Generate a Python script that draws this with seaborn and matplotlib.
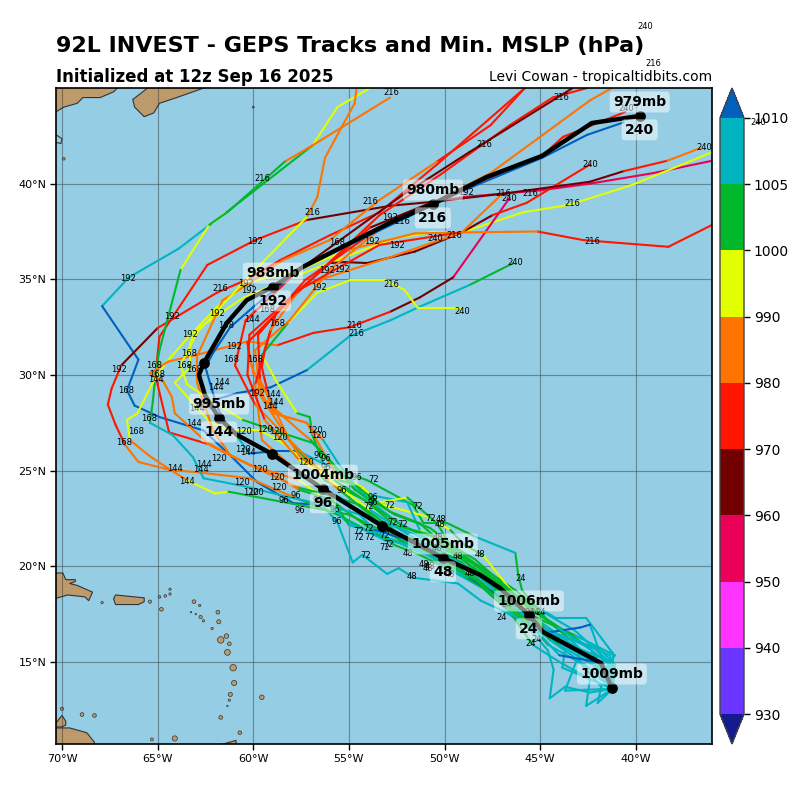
import numpy as np
import pandas as pd
import matplotlib
matplotlib.use("Agg")
import matplotlib.pyplot as plt
from matplotlib.colors import ListedColormap, BoundaryNorm
from matplotlib.cm import ScalarMappable
import seaborn as sns

sns.set_style("ticks")
plt.rcParams["font.family"] = ["DejaVu Sans"]
plt.rcParams["text.color"] = "black"
plt.rcParams["xtick.color"] = "black"
plt.rcParams["ytick.color"] = "black"

# colour scale
mslp_bounds = [930, 940, 950, 960, 970, 980, 990, 1000, 1005, 1010]
mslp_ticks = ["930", "940", "950", "960", "970", "980", "990", "1000", "1005", "1010"]
band_colors = ["#6a35ff", "#ff33ff", "#eb0059", "#720000", "#ff1500", "#ff7300",
               "#e1ff00", "#00b82c", "#00b5c0"]
under_color = "#151a8f"
over_color = "#0060be"

# ensemble members
m01_lon = [-41.2,-42.4,-43.7,-44.5,-44.3,-44.6,-45.6,-46.8,-48.1,-49.3,-51.6,-52.4,-53.0,-54.3,-54.8,-55.6,-56.4,-57.9,-59.8,-61.1,-62.6,-64.9,-66.2,-66.6,-66.0,-67.9,-66.5,-63.9,-62.2,-61.4,-56.9,-55.6,-53.9]
m01_lat = [13.6,13.4,13.7,13.1,14.6,15.6,16.8,17.6,18.2,19.1,19.4,19.9,19.6,20.6,20.2,22.3,23.2,23.3,24.4,25.7,27.1,27.8,28.4,29.2,30.8,33.6,35.1,36.6,37.9,38.5,42.0,44.0,45.0]
m01_mslp = [1007,1007,1007,1007,1007,1007,1007,1007,1007,1007,1007,1007,1007,1007,1007,1007,1007,1012,1012,1012,1012,1012,1012,1012,1012,1012,1007,1007,1007,995,1002,995,995]

m02_lon = [-41.2,-42.6,-42.4,-44.0,-45.4,-46.5,-47.9,-49.7,-51.3,-52.6,-54.2,-56.0,-57.6,-58.6,-60.2,-62.4,-64.4,-65.0,-65.1,-64.9,-62.4,-59.9,-57.2,-52.8,-50.6,-49.0,-46.7,-45.0,-42.4,-39.1,-36.0]
m02_lat = [13.6,12.7,14.1,15.0,15.9,17.5,18.8,19.8,20.6,21.1,22.2,23.5,24.0,24.6,25.3,26.4,27.0,29.5,30.1,32.0,35.75,37.05,38.1,38.85,39.05,39.3,39.5,39.65,40.0,40.55,41.2]
m02_mslp = [1007,1007,1007,1007,1007,1002,1007,1007,1002,1002,1002,1002,1002,985,985,985,975,975,975,975,975,975,975,965,965,955,955,955,955,955,955]

m03_lon = [-41.2,-42.0,-41.8,-42.9,-44.6,-45.8,-47.4,-48.7,-50.2,-51.8,-53.6,-55.6,-57.6,-58.8,-60.2,-62.8,-64.4,-66.0,-66.7,-67.2,-67.6,-67.4,-66.9,-65.0,-61.9,-60.3,-58.6,-56.0,-53.4,-50.4,-45.8]
m03_lat = [13.6,12.85,13.7,14.95,15.9,17.3,18.5,19.3,20.35,21.1,21.65,22.7,23.5,24.0,24.6,24.9,25.05,25.45,26.35,27.4,28.45,29.3,30.5,32.45,34.3,35.0,36.0,37.3,38.5,41.0,45.0]
m03_mslp = [1007,1007,1007,1007,1007,1002,1007,1002,1002,1002,1002,1002,1002,985,985,985,985,985,985,975,975,975,975,965,975,975,975,975,975,975,975]

m04_lon = [-41.2,-41.2,-42.6,-44.2,-45.3,-46.3,-47.1,-48.7,-50.0,-51.5,-52.8,-54.4,-56.2,-58.1,-60.3,-62.6,-63.15,-64.2,-65.4,-65.25,-65.1,-64.9,-63.8,-62.3,-61.3,-58.35,-56.9,-52.85]
m04_lat = [13.6,15.45,17.3,17.3,17.95,18.75,19.3,20.35,20.85,21.65,22.15,22.7,23.2,23.6,24.15,24.6,25.7,26.85,27.5,28.6,30.1,31.3,35.5,37.85,38.55,41.15,42.0,44.5]
m04_mslp = [1007,1007,1007,1007,1007,1002,1002,1002,1002,1007,1007,1007,1007,1007,1007,1007,1007,1007,1007,1002,1002,1002,1002,995,1002,1002,985,985]

m05_lon = [-41.2,-41.35,-43.2,-45.5,-46.5,-47.6,-48.7,-50.0,-51.3,-52.85,-55.0,-57.6,-61.3,-62.0,-63.45,-64.35,-65.4,-66.45,-66.6,-66.05,-65.25,-64.6,-63.15,-60.5,-58.1,-55.0,-52.6,-50.75,-49.1,-45.9,-43.45,-40.15,-36.0]
m05_lat = [13.6,15.35,16.15,16.65,17.6,18.5,19.55,20.05,20.85,21.65,22.7,23.2,23.9,23.8,24.5,25.05,25.75,26.6,27.65,28.0,29.6,30.6,32.25,34.05,35.05,36.25,37.15,37.45,37.45,38.5,38.9,39.95,41.65]
m05_mslp = [1007,1007,1007,1007,1007,1002,1002,1002,1002,1002,1002,1002,1002,995,995,985,985,985,995,995,995,995,995,995,995,995,995,995,995,995,995,995,995]

m06_lon = [-41.2,-43.85,-43.7,-45.5,-46.3,-47.6,-48.8,-50.25,-51.55,-53.1,-55.2,-56.5,-57.6,-60.2,-62.4,-64.1,-64.25,-64.7,-65.4,-64.45,-62.95,-60.3,-58.75,-56.85,-54.95,-52.85,-51.3,-49.55,-46.6]
m06_lat = [13.6,14.7,15.6,16.95,18.0,18.75,19.8,20.75,21.1,21.35,22.4,23.7,24.5,25.3,26.45,28.0,28.85,29.65,30.1,30.7,31.05,31.75,31.55,32.2,32.5,33.3,34.05,35.1,39.25]
m06_mslp = [1007,1007,1007,1007,1002,1002,1002,1007,1007,1007,1007,1007,995,985,985,985,985,985,985,985,985,985,985,975,975,975,965,965,955]

m07_lon = [-41.2,-43.7,-42.9,-45.0,-46.6,-48.25,-49.7,-51.0,-52.6,-54.4,-55.7,-57.6,-59.0,-60.2,-60.7,-61.6,-62.5,-60.85,-59.1,-57.2,-56.0,-55.0,-52.85,-51.45,-48.7,-46.4]
m07_lat = [13.6,13.5,15.6,17.1,18.25,19.55,20.35,21.5,22.4,23.8,25.05,26.0,26.0,25.9,26.6,27.65,28.55,29.05,29.35,30.25,31.2,32.0,32.85,33.5,34.7,35.85]
m07_mslp = [1007,1007,1007,1007,1002,1002,1002,1002,1007,1007,1007,1007,1012,1012,1007,1002,1012,1012,1012,1012,1007,1007,1007,1007,1007,1002]

m08_lon = [-41.2,-41.95,-43.4,-44.55,-45.95,-46.15,-46.3,-48.4,-49.85,-51.1,-51.65,-54.05,-55.6,-56.35,-56.9,-57.05,-57.7,-58.75,-59.55,-58.2,-56.65,-54.95,-53.1,-52.1,-51.4,-49.1]
m08_lat = [13.6,14.7,16.15,17.1,18.75,19.55,20.7,21.55,22.25,22.25,23.2,24.5,25.05,25.4,26.85,27.8,28.0,29.6,31.05,32.7,34.3,34.95,34.95,34.45,33.5,33.5]
m08_mslp = [1007,1007,1007,1002,1002,1002,1002,1007,1002,1002,1002,1002,1002,1007,1002,1002,1002,995,995,1002,995,995,995,995,995,995]

m09_lon = [-41.2,-42.4,-44.2,-45.5,-47.25,-48.0,-48.95,-49.7,-50.9,-53.55,-54.3,-55.5,-57.2,-58.95,-59.4,-59.55,-59.4,-58.75,-56.0,-55.2,-54.05,-51.55,-49.1,-47.5,-45.7,-42.4]
m09_lat = [13.6,15.1,16.15,17.45,19.65,20.6,21.1,21.9,22.6,23.3,24.15,24.5,27.5,28.0,29.75,30.4,31.3,33.4,35.85,35.9,35.85,36.45,37.45,38.35,39.0,41.0]
m09_mslp = [1007,1007,1007,1002,995,995,1002,1002,995,995,995,1002,985,985,975,975,975,975,975,965,965,965,965,965,975,975]

m10_lon = [-41.2,-41.6,-44.0,-45.5,-46.85,-48.4,-49.7,-51.3,-51.95,-54.3,-55.5,-56.35,-57.2,-58.95,-59.3,-60.0,-60.3,-57.4,-56.15,-52.85,-49.1,-46.95]
m10_lat = [13.6,14.45,15.9,17.2,18.5,19.8,20.95,21.9,23.35,23.8,25.3,26.6,27.5,28.0,29.05,30.1,31.7,34.6,35.1,36.15,37.45,39.5]
m10_mslp = [1007,1007,1007,1002,1002,1002,1002,995,1007,1007,1007,1007,985,985,985,985,985,985,985,985,985,985]

m11_lon = [-41.2,-42.65,-44.5,-45.8,-47.1,-48.7,-49.7,-50.4,-51.95,-53.55,-54.3,-56.35,-57.9,-58.45,-59.65,-61.2,-62.25,-64.1,-63.3,-63.3,-62.95,-61.9,-60.2,-57.6,-55.0,-51.55,-49.1,-45.15,-42.75,-38.3,-36.0]
m11_lat = [13.6,14.85,16.15,17.6,18.75,20.05,21.1,22.25,23.6,23.3,24.15,25.05,25.95,26.45,27.1,27.1,27.5,29.6,30.4,31.65,32.45,33.55,34.85,35.5,36.55,37.4,37.45,37.5,37.05,36.7,37.85]
m11_mslp = [1007,1007,1007,1002,1002,1002,1002,1002,1002,995,995,995,995,995,995,995,995,995,995,995,995,995,995,995,995,985,985,985,975,975,975]

m12_lon = [-41.2,-41.9,-41.1,-43.2,-46.05,-47.6,-49.1,-50.75,-52.3,-54.4,-56.0,-57.6,-59.65,-61.2,-62.1,-62.95,-62.95,-61.6,-60.2,-58.45,-56.0,-53.4,-50.4,-47.6,-45.8]
m12_lat = [13.6,14.15,15.35,16.4,17.7,19.0,20.2,21.1,21.65,23.2,23.7,24.1,25.05,25.8,27.1,29.65,30.95,33.9,34.8,36.0,37.05,39.15,41.15,43.05,45.0]
m12_mslp = [1007,1007,1007,1007,1002,1002,1002,1002,1002,1002,1002,1002,985,985,985,985,985,985,985,985,985,985,985,975,975]

m13_lon = [-41.2,-41.6,-42.4,-44.75,-46.05,-47.7,-49.45,-50.75,-52.6,-54.15,-56.25,-58.45,-60.55,-62.25,-63.45,-63.8,-62.95,-60.55,-59.5,-57.2,-56.65,-56.25,-54.7,-54.6]
m13_lat = [13.6,14.05,15.75,16.75,18.25,19.4,20.6,21.65,22.15,23.45,24.5,26.95,27.65,28.7,29.5,30.5,32.2,34.8,35.9,38.25,39.3,41.35,44.2,45.0]
m13_mslp = [1007,1007,1007,1007,1002,1002,1002,1002,1002,1002,1002,1002,1002,995,995,995,995,995,995,995,985,985,985,985]

m14_lon = [-41.2,-41.35,-43.0,-44.75,-46.5,-48.15,-49.3,-50.75,-52.6,-54.7,-56.0,-57.0,-57.6,-59.4,-60.2,-60.3,-58.1,-56.0,-53.4,-50.25,-46.6,-44.35,-42.55]
m14_lat = [13.6,14.85,16.15,17.3,18.65,19.9,20.85,22.0,22.7,24.0,25.55,26.6,27.1,28.7,30.8,31.7,33.9,35.9,38.35,40.45,43.05,44.5,45.0]
m14_mslp = [1007,1007,1007,1002,1002,1002,1002,1002,1002,1002,1002,1002,985,985,985,975,975,975,975,975,975,975,975]

m15_lon = [-41.2,-41.5,-43.2,-45.0,-46.7,-48.4,-50.0,-51.3,-52.85,-55.0,-56.9,-58.45,-59.9,-60.95,-60.4,-57.6,-52.2,-48.7,-46.6,-43.3]
m15_lat = [13.6,15.1,16.65,17.7,18.75,20.05,21.1,22.25,22.85,24.5,26.45,26.95,28.45,30.5,32.85,35.5,39.4,41.65,42.95,45.0]
m15_mslp = [1007,1007,1007,1007,1002,1002,1002,1002,1002,1002,1002,1002,985,975,975,975,965,965,965,965]

m16_lon = [-41.2,-42.4,-42.9,-44.85,-46.05,-47.6,-49.1,-50.75,-52.3,-53.9,-55.5,-57.6,-59.65,-59.9,-58.1,-56.0,-53.4,-47.6,-42.4,-41.25]
m16_lat = [13.6,16.95,16.8,16.5,17.7,18.75,19.8,20.75,21.35,22.7,24.0,25.8,28.95,31.3,32.85,35.5,37.6,40.55,44.35,45.0]
m16_mslp = [1007,1007,1012,1012,1007,1002,1002,1002,1002,1002,1002,985,985,985,985,985,985,985,985,985]

m17_lon = [-41.2,-41.2,-43.45,-45.5,-47.4,-48.95,-50.5,-52.3,-53.9,-56.0,-58.1,-59.65,-59.75,-57.3,-53.4,-49.0,-44.85,-43.8,-40.55]
m17_lat = [13.6,14.95,15.9,17.1,18.75,20.05,20.85,21.9,22.95,24.5,26.6,29.75,32.1,34.95,37.7,39.65,41.5,42.45,43.75]
m17_mslp = [1007,1007,1007,1007,1007,1007,1007,1007,1007,995,985,985,975,975,975,975,975,975,975]

m18_lon = [-41.2,-41.8,-44.0,-45.5,-47.1,-48.7,-50.25,-52.3,-53.65,-55.2,-57.6,-59.0,-60.7,-61.6,-62.0,-62.5,-62.1,-61.2,-60.0,-57.4,-49.0,-44.9,-42.55,-40.65]
m18_lat = [13.6,14.95,15.35,16.95,18.4,19.4,20.2,21.5,21.9,23.45,24.75,25.95,26.75,27.65,28.7,30.4,31.15,32.5,33.55,35.65,39.65,41.35,42.55,43.2]
m18_mslp = [1007,1007,1012,1007,1002,1012,1007,1007,1012,1007,1007,1007,1007,1012,1012,1012,1012,1012,1012,1012,1012,1012,1012,1012]

m19_lon = [-41.2,-41.1,-41.9,-45.5,-47.1,-48.4,-50.0,-51.8,-53.5,-55.0,-56.25,-57.8,-59.55,-59.9,-59.1,-57.6,-53.9,-50.6,-46.75,-42.4,-40.65,-38.35,-36.65]
m19_lat = [13.6,14.85,15.7,16.8,18.25,19.3,20.2,20.95,21.75,22.15,24.1,25.05,26.6,29.5,32.35,34.45,37.7,39.05,39.5,40.1,40.65,41.2,41.85]
m19_mslp = [1007,1007,1007,1007,1002,1002,1002,1007,1007,1007,1002,995,985,985,975,985,975,965,965,965,965,975,985]

m20_lon = [-41.2,-42.3,-44.1,-45.4,-46.85,-48.4,-50.15,-52.05,-53.8,-55.75,-57.6,-59.4,-60.3,-60.2,-57.6,-53.4,-49.2]
m20_lat = [13.6,15.6,16.8,17.7,19.0,20.35,21.4,22.0,23.2,24.5,25.55,27.65,30.0,32.1,34.45,36.8,37.45]
m20_mslp = [1007,1007,1007,1002,1002,1002,1002,1002,1002,1002,995,985,975,975,975,975,975]

# ensemble mean track
mean_lon = [-41.25,-41.83,-44.86,-45.59,-47.11,-48.15,-50.09,-52.33,-53.27,-56.36,-59.02,-60.85,-61.79,-62.53,-62.84,-62.58,-61.38,-60.33,-58.97,-57.4,-52.86,-50.61,-47.79,-44.91,-42.3,-39.8]
mean_lat = [13.64,14.95,16.57,17.46,18.87,19.55,20.44,21.64,22.11,24.04,25.87,26.87,27.75,28.96,30.0,30.63,32.72,33.92,34.6,35.65,37.95,38.94,40.35,41.45,43.17,43.54]

# daily fixes on the mean track
fix_lon = [-41.25,-45.59,-50.09,-53.27,-56.36,-59.02,-61.79,-62.58,-58.97,-50.61,-39.8]
fix_lat = [13.64,17.46,20.44,22.11,24.04,25.87,27.75,30.63,34.6,38.94,43.54]
fix_hour = [0,24,48,72,96,120,144,168,192,216,240]
fix_mslp = [1009,1006,1005,None,1004,None,995,None,988,980,979]

# member hour labels
h24_lon = [-46.0,-47.0,-45.5,-45.2,-46.75,-45.0,-45.3,-45.55]
h24_lat = [19.35,17.3,15.95,16.15,18.0,17.6,17.6,17.6]
h48_lon = [-50.2,-50.25,-50.35,-48.15,-49.3,-51.9,-51.1,-51.7,-50.75,-48.65,-50.85,-49.7,-50.4]
h48_lat = [22.45,22.2,21.5,20.6,20.5,20.65,20.1,19.45,20.0,19.6,19.9,19.55,20.95]
h72_lon = [-53.7,-51.4,-52.85,-50.75,-52.7,-52.2,-53.95,-53.95,-54.5,-54.5,-53.9,-53.15,-53.15,-52.9,-54.15]
h72_lat = [24.55,23.1,23.2,22.5,22.3,22.2,23.15,22.0,21.8,21.5,21.5,21.6,21.0,21.15,20.55]
h96_lon = [-58.4,-57.8,-57.55,-55.35,-55.65,-53.75,-53.75,-56.2,-56.55,-56.2,-56.65,-55.75,-54.6]
h96_lat = [23.45,23.7,22.9,23.95,22.35,23.6,23.35,25.65,25.8,25.15,23.45,22.95,24.65]
h120_lon = [-60.5,-59.4,-58.75,-58.6,-56.75,-56.55,-61.8,-60.55,-59.65,-60.6,-58.75,-58.65,-57.25,-59.85,-60.1]
h120_lat = [27.05,27.15,27.05,26.75,27.1,26.85,25.65,26.1,25.05,24.4,24.65,24.1,25.45,23.85,23.85]
h144_lon = [-60.05,-65.1,-61.65,-61.95,-58.95,-58.8,-59.1,-62.95,-63.1,-64.1,-62.6,-62.75,-63.45,-60.3]
h144_lat = [32.9,29.75,29.6,29.35,29.0,28.55,28.35,28.25,27.45,25.1,25.3,25.05,24.45,25.95]
h168_lon = [-55.6,-59.3,-58.75,-61.4,-61.15,-59.9,-63.35,-63.6,-63.1,-65.2,-65.05,-66.65,-65.45,-66.1,-66.75]
h168_lat = [36.95,33.4,32.7,32.6,30.8,30.8,31.1,30.5,30.3,30.5,30.0,29.2,27.7,27.05,26.45]
h192_lon = [-66.55,-59.9,-52.85,-53.8,-52.5,-48.9,-56.15,-55.35,-56.55,-60.2,-60.4,-61.9,-64.25,-63.3,-61.0,-67.0,-59.8]
h192_lat = [35.05,37.0,38.25,37.0,36.75,39.55,35.45,35.5,34.55,34.4,34.8,33.2,33.05,32.1,31.5,30.3,29.05]
h216_lon = [-39.1,-52.8,-43.9,-47.9,-59.5,-56.9,-53.9,-52.2,-49.5,-46.95,-45.5,-43.3,-42.3,-52.8,-54.7,-54.6,-61.7]
h216_lat = [46.3,44.75,44.5,42.05,40.25,38.5,39.05,38.0,37.3,39.5,39.5,38.95,37.0,34.75,32.6,32.15,34.5]
h240_lon = [-39.5,-33.6,-36.4,-40.5,-42.4,-46.6,-50.5,-46.3,-49.1]
h240_lat = [48.2,43.2,41.9,43.95,41.0,39.25,37.15,35.9,33.3]

# land outlines
maine_lon = [-70.4,-69.9,-69.2,-68.9,-68.0,-67.3,-67.0,-70.4]
maine_lat = [43.7,44.0,44.2,44.5,44.5,44.8,45.1,45.1]
scotia_lon = [-66.3,-66.2,-65.7,-65.2,-64.9,-64.0,-62.3,-65.4,-65.9]
scotia_lat = [44.4,44.0,43.5,43.7,44.2,44.5,45.1,45.1,44.7]
hisp_lon = [-70.4,-69.95,-69.8,-69.3,-69.3,-69.6,-69.2,-68.4,-68.6,-68.8,-69.7,-70.4]
hisp_lat = [19.65,19.65,19.3,19.3,19.2,19.1,19.0,18.65,18.2,18.4,18.5,18.3]
prico_lon = [-67.2,-65.7,-65.7,-66.0,-67.2,-67.3]
prico_lat = [18.5,18.35,18.15,18.0,18.0,18.3]
venez_lon = [-70.4,-69.6,-68.7,-68.3,-68.3,-70.4]
venez_lat = [11.55,11.55,11.3,10.8,10.6,10.6]
parag_lon = [-70.4,-70.0,-69.8,-69.8,-70.0,-70.4]
parag_lat = [11.7,12.2,11.9,11.7,11.6,11.6]
trin_lon = [-61.6,-60.9,-60.9,-61.6]
trin_lat = [10.7,10.9,10.6,10.6]
cod_lon = [-70.3,-70.0,-70.05,-70.3]
cod_lat = [42.55,42.35,42.1,42.15]
islet_lon = [-67.9,-65.4,-64.8,-64.9,-64.6,-64.35,-64.35,-63.1,-62.8,-63.25,-63.0,-62.75,-62.6,-62.15,-61.85,-61.8,-61.7,-61.4,-61.25,-61.35,-61.05,-61.0,-61.2,-61.25,-61.35,-61.7,-60.7,-59.55,-64.1,-65.3,-70.0,-68.95,-68.3,-60.0,-69.9]
islet_lat = [18.1,18.15,17.75,18.4,18.45,18.55,18.8,18.15,17.95,17.6,17.5,17.35,17.15,16.75,17.6,17.1,16.15,16.35,15.95,15.5,14.7,13.9,13.3,13.0,12.7,12.1,11.3,13.15,11.0,10.95,12.55,12.25,12.2,44.0,41.3]
islet_area = [3,6,8,4,4,3,3,8,3,1,1,6,3,3,8,10,25,12,8,20,25,16,10,3,1,8,8,12,16,5,6,8,8,2,4]

members = [
    (m01_lon, m01_lat, m01_mslp), (m02_lon, m02_lat, m02_mslp), (m03_lon, m03_lat, m03_mslp),
    (m04_lon, m04_lat, m04_mslp), (m05_lon, m05_lat, m05_mslp), (m06_lon, m06_lat, m06_mslp),
    (m07_lon, m07_lat, m07_mslp), (m08_lon, m08_lat, m08_mslp), (m09_lon, m09_lat, m09_mslp),
    (m10_lon, m10_lat, m10_mslp), (m11_lon, m11_lat, m11_mslp), (m12_lon, m12_lat, m12_mslp),
    (m13_lon, m13_lat, m13_mslp), (m14_lon, m14_lat, m14_mslp), (m15_lon, m15_lat, m15_mslp),
    (m16_lon, m16_lat, m16_mslp), (m17_lon, m17_lat, m17_mslp), (m18_lon, m18_lat, m18_mslp),
    (m19_lon, m19_lat, m19_mslp), (m20_lon, m20_lat, m20_mslp),
]
hour_sets = [(24, h24_lon, h24_lat), (48, h48_lon, h48_lat), (72, h72_lon, h72_lat),
             (96, h96_lon, h96_lat), (120, h120_lon, h120_lat), (144, h144_lon, h144_lat),
             (168, h168_lon, h168_lat), (192, h192_lon, h192_lat), (216, h216_lon, h216_lat),
             (240, h240_lon, h240_lat)]

all_colors = [under_color] + band_colors + [over_color]
edges = [-np.inf] + mslp_bounds + [np.inf]
palette = {i: c for i, c in enumerate(all_colors)}


def band_of(p):
    return int(np.searchsorted(edges, p, side="right") - 1)


fig = plt.figure(figsize=(8, 8), dpi=100, facecolor="white")
ax = fig.add_axes([0.07, 0.07, 0.82, 0.82], facecolor="#94cde4")

# land
land_c = "#bd9a6b"
for lo, la in [(maine_lon, maine_lat), (scotia_lon, scotia_lat), (hisp_lon, hisp_lat),
               (prico_lon, prico_lat), (venez_lon, venez_lat), (parag_lon, parag_lat),
               (trin_lon, trin_lat)]:
    ax.fill(lo, la, facecolor=land_c, edgecolor="#333333", linewidth=0.8, zorder=1)
ax.plot(cod_lon, cod_lat, color="#333333", lw=0.8, zorder=1)
sns.scatterplot(x=islet_lon, y=islet_lat, size=islet_area, sizes=(1, 22), size_norm=(1, 25),
                color=land_c, edgecolor="#333333", linewidth=0.5, legend=False, ax=ax, zorder=1)

# tracks, one two-point piece per colour change
for n, (lo, la, pr) in enumerate(members):
    rows = []
    for s in range(len(lo) - 1):
        b = band_of(pr[s + 1])
        rows.append((s, lo[s], la[s], b))
        rows.append((s, lo[s + 1], la[s + 1], b))
    df = pd.DataFrame(rows, columns=["seg", "lon", "lat", "band"])
    sns.lineplot(data=df, x="lon", y="lat", hue="band", units="seg", estimator=None, sort=False,
                 palette=palette, legend=False, linewidth=1.5, ax=ax, zorder=3)

# hour labels
for hour, lo, la in hour_sets:
    for x, y in zip(lo, la, strict=True):
        ax.text(x, y, str(hour), fontsize=6, ha="center", va="center", color="black",
                zorder=4, clip_on=False)

# mean
sns.lineplot(x=mean_lon, y=mean_lat, sort=False, estimator=None, color="black", linewidth=3.2,
             ax=ax, zorder=5, solid_capstyle="round")
sns.scatterplot(x=fix_lon, y=fix_lat, color="black", s=60, linewidth=0, ax=ax, zorder=6, legend=False)
box = dict(boxstyle="round,pad=0.25", fc="white", ec="none", alpha=0.5)
for x, y, h, p in zip(fix_lon, fix_lat, fix_hour, fix_mslp, strict=True):
    if p is None:
        continue
    ax.annotate(f"{p}mb", (x, y), xytext=(0, 10), textcoords="offset points", ha="center", va="center",
                fontsize=10, fontweight="bold", color="black", bbox=box, zorder=7)
    if h > 0:
        ax.annotate(str(h), (x, y), xytext=(0, -10), textcoords="offset points", ha="center", va="center",
                    fontsize=10, fontweight="bold", color="black", bbox=box, zorder=7)

# axes
ax.set_xlim(-70.31, -36.02)
ax.set_ylim(10.71, 45.0)
ax.set_xticks(range(-70, -39, 5))
ax.set_xticklabels([f"{abs(v)}°W" for v in range(-70, -39, 5)], fontsize=8)
ax.set_yticks(range(15, 41, 5))
ax.set_yticklabels([f"{v}°N" for v in range(15, 41, 5)], fontsize=8)
ax.tick_params(length=4, width=1, color="black", pad=3)
ax.grid(True, color="#222222", alpha=0.4, linewidth=0.8)
ax.set_axisbelow(False)
for ln in ax.get_xgridlines() + ax.get_ygridlines():
    ln.set_zorder(2)
ax.set_xlabel("")
ax.set_ylabel("")
for sp in ax.spines.values():
    sp.set_visible(True)
    sp.set_linewidth(1.2)
    sp.set_color("black")
    sp.set_zorder(8)

# colorbar
cmap = ListedColormap(band_colors).with_extremes(under=under_color, over=over_color)
norm = BoundaryNorm(mslp_bounds, cmap.N)
cax = fig.add_axes([720 / 800, 0.07, 24 / 800, 0.82])
cb = fig.colorbar(ScalarMappable(norm=norm, cmap=cmap), cax=cax, extend="both",
                  ticks=mslp_bounds, spacing="uniform", extendfrac=0.05)
cb.ax.set_yticklabels(mslp_ticks, fontsize=10)
cb.ax.tick_params(length=4, width=1, pad=3)
cb.outline.set_edgecolor("#444444")
cb.outline.set_linewidth(1)

# titles
fig.text(56 / 800, 1 - 46 / 800, "92L INVEST - GEPS Tracks and Min. MSLP (hPa)", fontsize=16,
         fontweight="bold", ha="left", va="center", color="black")
fig.text(56 / 800, 1 - 77 / 800, "Initialized at 12z Sep 16 2025", fontsize=12,
         fontweight="bold", ha="left", va="center", color="black")
fig.text(712 / 800, 1 - 77 / 800, "Levi Cowan - tropicaltidbits.com", fontsize=10,
         ha="right", va="center", color="black")

fig.savefig("out.png", dpi=100)
